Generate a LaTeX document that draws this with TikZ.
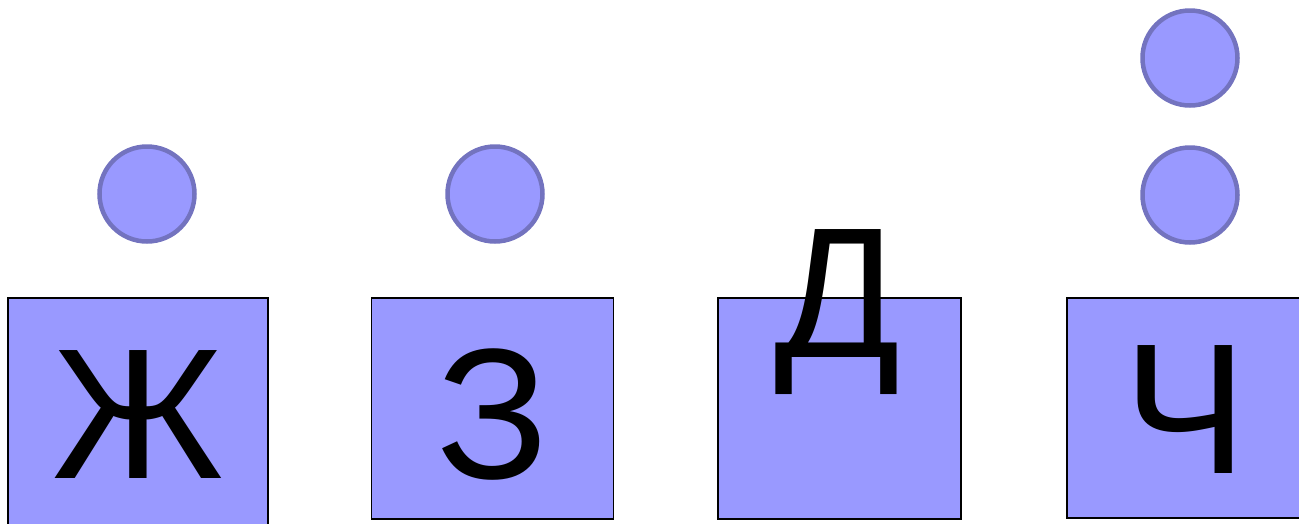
\documentclass[tikz,border=0pt]{standalone}
\usepackage{fontspec}
\setmainfont{Liberation Sans}
\definecolor{boxfill}{HTML}{9999FF}
\definecolor{ringcol}{HTML}{7373BF}
\begin{document}
\begin{tikzpicture}[x=1pt,y=-1pt,
  letterbox/.style={draw=black, line width=1.5pt, fill=boxfill, rectangle, inner sep=0pt},
  dot/.style={circle, draw=ringcol, line width=4.5pt, fill=boxfill, minimum size=95pt, inner sep=0pt},
  glyph/.style={anchor=base, inner sep=0pt, font=\fontsize{186}{186}\selectfont}]
\useasboundingbox (0,0) rectangle (1299,523);
% boxes
\node[letterbox, minimum width=260pt, minimum height=240pt] (bzh) at (138,418) {};
\node[letterbox, minimum width=242pt, minimum height=221pt] (bz) at (492.5,408.5) {};
\node[letterbox, minimum width=243pt, minimum height=221pt] (bd) at (839.5,408.5) {};
\node[letterbox, minimum width=243pt, minimum height=220pt] (bch) at (1188.5,408) {};
% circles
\node[dot] (czh) at (147,194) {};
\node[dot] (cz) at (495,194) {};
\node[dot] (cch1) at (1190,195) {};
\node[dot] (cch2) at (1190,58) {};
% letters
\node[glyph] (lzh) at (138,478) {Ж};
\node[glyph] (lz) at (493,478) {З};
\node[glyph] (ld) at (837,357) {Д};
\node[glyph] (lch) at (1185,473) {Ч};
\end{tikzpicture}
\end{document}
